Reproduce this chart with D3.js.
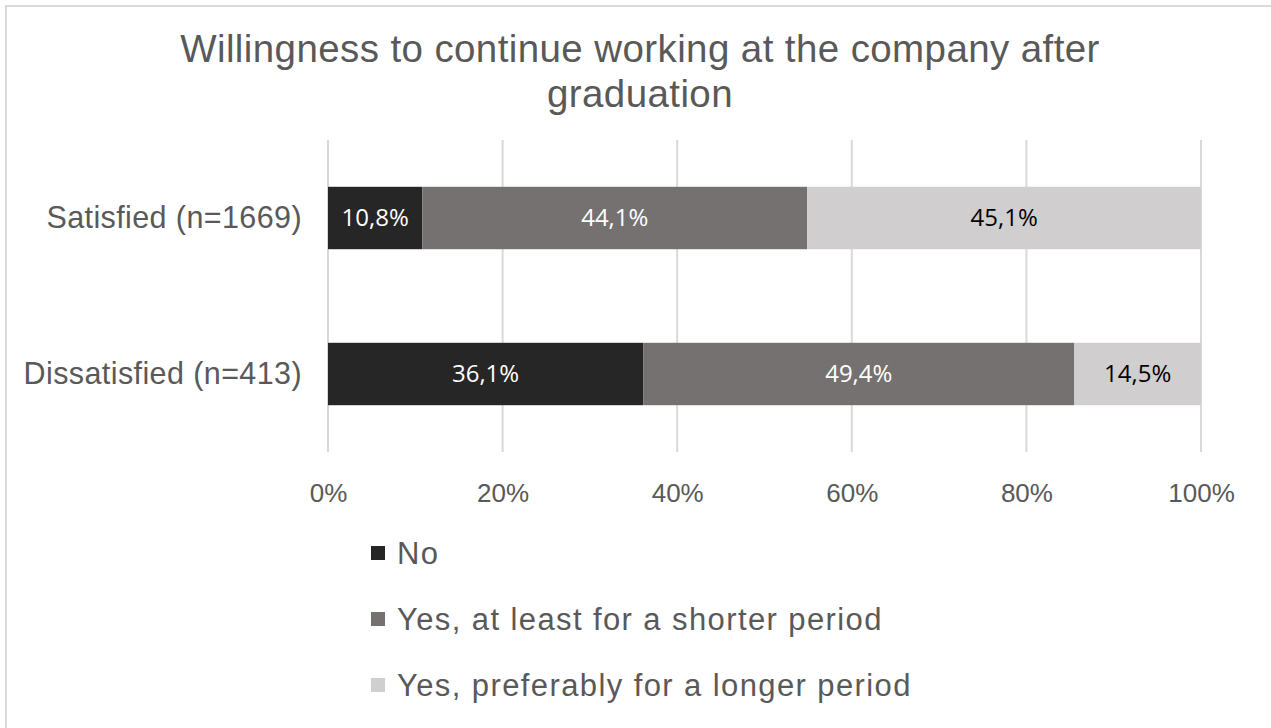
<!DOCTYPE html>
<html><head><meta charset="utf-8">
<script src="https://cdn.jsdelivr.net/npm/d3@7/dist/d3.min.js"></script>
<style>body{margin:0;background:#fff}svg{display:block}</style>
</head><body><svg id="c" width="1271" height="728"></svg>
<script>
const categories = ["Satisfied (n=1669)", "Dissatisfied (n=413)"];
const seriesNames = ["No", "Yes, at least for a shorter period", "Yes, preferably for a longer period"];
const noValues = [10.8, 36.1];
const shorterValues = [44.1, 49.4];
const longerValues = [45.1, 14.5];
const tickValues = [0, 20, 40, 60, 80, 100];
const colors = ["#262626", "#767171", "#d0cece"];
const labelColors = ["#ffffff", "#ffffff", "#000000"];

const svg = d3.select("#c");
svg.append("rect").attr("x",6).attr("y",6).attr("width",1300).attr("height",800)
  .attr("fill","#fff").attr("stroke","#d9d9d9").attr("stroke-width",2);

// title
const title = svg.append("text").attr("text-anchor","middle").attr("fill","#595959")
  .attr("font-family","Liberation Sans, Arial, sans-serif").attr("font-size",38.5)
  .attr("letter-spacing","0.4px");
title.append("tspan").attr("x",640).attr("y",62).text("Willingness to continue working at the company after");
title.append("tspan").attr("x",640).attr("y",107).text("graduation");

const x = d3.scaleLinear().domain([0,100]).range([328,1201]);
const y = d3.scaleBand().domain(categories).range([140,452]).paddingInner(0.6).paddingOuter(0.3);

// gridlines
svg.append("g").selectAll("line").data(tickValues).join("line")
  .attr("x1",d=>x(d)).attr("x2",d=>x(d)).attr("y1",140).attr("y2",452)
  .attr("stroke","#d9d9d9").attr("stroke-width",2);

// x axis labels
const xAxis = d3.axisBottom(x).tickValues(tickValues).tickFormat(d=>d+"%").tickSize(0).tickPadding(0);
const gx = svg.append("g").attr("transform","translate(0,502)").call(xAxis);
gx.select(".domain").remove();
gx.selectAll("text").attr("font-family","Liberation Sans, Arial, sans-serif")
  .attr("font-size",26).attr("fill","#595959").attr("y",0).attr("dy",0);

// y axis labels
const yAxis = d3.axisLeft(y).tickSize(0).tickPadding(26);
const gy = svg.append("g").attr("transform","translate(328,0)").call(yAxis);
gy.select(".domain").remove();
gy.selectAll("text").attr("font-family","Liberation Sans, Arial, sans-serif")
  .attr("font-size",30.5).attr("letter-spacing","0.4px").attr("fill","#595959");

// stacked data
const rows = categories.map((c,i)=>({cat:c, s0:noValues[i], s1:shorterValues[i], s2:longerValues[i]}));
const stack = d3.stack().keys(["s0","s1","s2"])(rows);

stack.forEach((layer,li)=>{
  const g = svg.append("g");
  g.selectAll("rect").data(layer).join("rect")
    .attr("x",d=>x(d[0])).attr("width",d=>x(d[1])-x(d[0]))
    .attr("y",d=>y(d.data.cat)).attr("height",y.bandwidth())
    .attr("fill",colors[li]);
  g.selectAll("text").data(layer).join("text")
    .attr("x",d=>(x(d[0])+x(d[1]))/2).attr("y",d=>y(d.data.cat)+y.bandwidth()/2)
    .attr("dy","0.35em").attr("text-anchor","middle")
    .attr("font-family","Open Sans, sans-serif").attr("font-size",24)
    .attr("fill",labelColors[li])
    .text(d=>d3.format(".1f")(d[1]-d[0]).replace(".",",")+"%");
});

// legend
const legY = [553, 619, 685];
const leg = svg.append("g").selectAll("g").data(seriesNames).join("g")
  .attr("transform",(d,i)=>`translate(371,${legY[i]})`);
leg.append("rect").attr("x",0).attr("y",-7).attr("width",14).attr("height",14)
  .attr("fill",(d,i)=>colors[i]);
leg.append("text").attr("x",26).attr("y",0).attr("dy","0.35em")
  .attr("font-family","Liberation Sans, Arial, sans-serif").attr("font-size",31)
  .attr("letter-spacing","1.4px")
  .attr("fill","#595959").text(d=>d);
</script></body></html>
